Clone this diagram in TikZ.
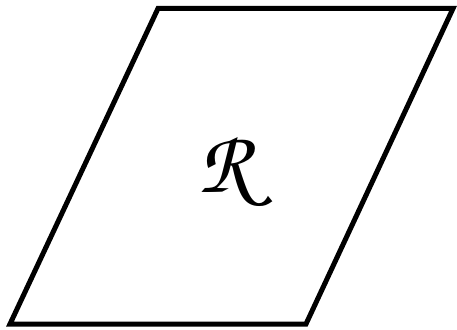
\documentclass[tikz,border=0pt]{standalone}
\usepackage{tikz}
\usepackage{amsmath}
\usetikzlibrary{positioning, calc}

\begin{document}
\begin{tikzpicture}[
  x=1pt, y=-1pt,
  plane/.style={draw=black, line width=5pt, line join=miter},
  regionlabel/.style={inner sep=0pt, font=\fontsize{90}{92}\selectfont},
]

% =====================================================================
% Frame (fixes the margins of the picture)
% =====================================================================
\useasboundingbox (0,0) rectangle (457,329);

% =====================================================================
% Parallelogram
% =====================================================================
\pgfmathsetmacro{\yTop}{8.5}
\pgfmathsetmacro{\yBot}{324}

\coordinate (pTL) at (158, \yTop);
\coordinate (pTR) at (453, \yTop);
\coordinate (pBR) at (306, \yBot);
\coordinate (pBL) at (10,  \yBot);

\draw[plane] (pTL) -- (pTR) -- (pBR) -- (pBL) -- cycle;

% region label
\node[regionlabel] (rLabel) at (225, 171) {\usefont{T1}{pzc}{m}{it}R};

\end{tikzpicture}
\end{document}
